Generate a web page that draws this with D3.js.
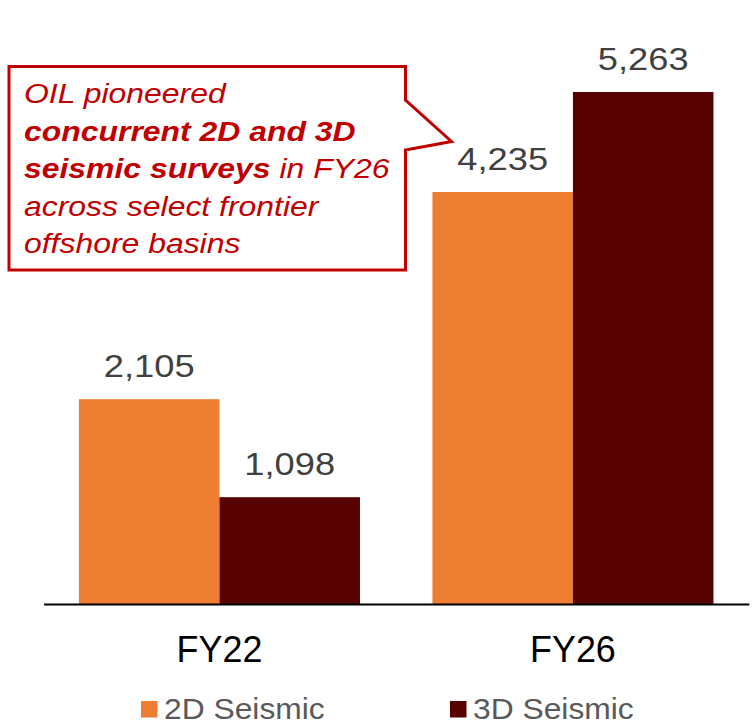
<!DOCTYPE html>
<html>
  <head>
    <style>
    body {
      font-family: "Liberation Sans", Arial, sans-serif;
      margin: 0;
      background: #fff;
    }
    </style>
  </head>
  <body>
    <script src="https://d3js.org/d3.v7.min.js"></script>
    <script>
    var width = 756, height = 728;

    // data
    var years = ["FY22", "FY26"];
    var seriesNames = ["2D Seismic", "3D Seismic"];
    var seismic2D = [2105, 4235];
    var seismic3D = [1098, 5263];
    var colors = ["#ED7D31", "#560000"];

    var calloutLines = [
      [["OIL pioneered", false]],
      [["concurrent 2D and 3D", true]],
      [["seismic surveys", true], [" in FY26", false]],
      [["across select frontier", false]],
      [["offshore basins", false]]
    ];

    var svg = d3.select("body").append("svg")
        .attr("width", width)
        .attr("height", height);

    var x0 = d3.scaleBand()
        .domain(years)
        .range([43.6, 748.8])
        .paddingInner(0.205)
        .paddingOuter(0.1);

    var x1 = d3.scaleBand()
        .domain(seriesNames)
        .range([0, x0.bandwidth()]);

    var y = d3.scaleLinear()
        .domain([0, 5263])
        .range([604, 92]);

    var rows = years.map(function(yr, i) {
      return { year: yr, values: [seismic2D[i], seismic3D[i]] };
    });

    var groups = svg.selectAll(".grp")
        .data(rows)
      .enter().append("g")
        .attr("class", "grp")
        .attr("transform", function(d) { return "translate(" + x0(d.year) + ",0)"; });

    groups.selectAll("rect")
        .data(function(d) { return d.values.map(function(v, j) { return { s: seriesNames[j], v: v, j: j }; }); })
      .enter().append("rect")
        .attr("x", function(d) { return x1(d.s); })
        .attr("y", function(d) { return y(d.v); })
        .attr("width", x1.bandwidth())
        .attr("height", function(d) { return y(0) - y(d.v); })
        .attr("fill", function(d) { return colors[d.j]; });

    // value labels (glyphs are drawn a bit wide in the original)
    groups.selectAll(".val")
        .data(function(d) { return d.values.map(function(v, j) { return { s: seriesNames[j], v: v }; }); })
      .enter().append("text")
        .attr("class", "val")
        .attr("transform", function(d) {
          return "translate(" + (x1(d.s) + x1.bandwidth() / 2) + "," + (y(d.v) - 22) + ") scale(1.17,1)";
        })
        .attr("text-anchor", "middle")
        .style("font-size", "31px")
        .style("fill", "#404040")
        .text(function(d) { return d3.format(",")(d.v); });

    // baseline axis
    var xAxis = d3.axisBottom(x0).tickSize(0).tickPadding(0);
    var ax = svg.append("g")
        .attr("transform", "translate(0," + y(0) + ")")
        .call(xAxis);
    ax.select(".domain").attr("stroke", "#000").attr("stroke-width", 2);
    ax.selectAll(".tick text")
        .attr("y", 0)
        .attr("dy", 0)
        .attr("transform", "translate(0,58) scale(0.97,1)")
        .style("font-family", "'Liberation Sans', Arial, sans-serif")
        .style("font-size", "37px")
        .style("fill", "#000");

    // legend
    var legendX = [141, 450];
    var legend = svg.selectAll(".leg")
        .data(seriesNames)
      .enter().append("g")
        .attr("class", "leg")
        .attr("transform", function(d, i) { return "translate(" + legendX[i] + ",701)"; });
    legend.append("rect")
        .attr("width", 16.5)
        .attr("height", 16.5)
        .attr("fill", function(d, i) { return colors[i]; });
    legend.append("text")
        .attr("transform", "translate(23,17.7) scale(1.06,1)")
        .style("font-size", "30px")
        .style("fill", "#595959")
        .text(function(d) { return d; });

    // callout box
    var callout = svg.append("g");
    callout.append("path")
        .attr("d", "M9,66.5H405.5V100L451.5,141.5L405.5,150V270H9Z")
        .attr("fill", "#fff")
        .attr("stroke", "#C00000")
        .attr("stroke-width", 3);

    var ct = callout.append("text")
        .attr("transform", "translate(24,0) scale(1.14,1)")
        .style("font-size", "28px")
        .style("font-style", "italic")
        .style("fill", "#C00000");

    calloutLines.forEach(function(line, i) {
      line.forEach(function(part, k) {
        var t = ct.append("tspan")
            .style("font-weight", part[1] ? "bold" : "normal")
            .text(part[0]);
        if (k === 0) t.attr("x", 0).attr("y", 103 + i * 37.6);
      });
    });
    </script>
  </body>
</html>
